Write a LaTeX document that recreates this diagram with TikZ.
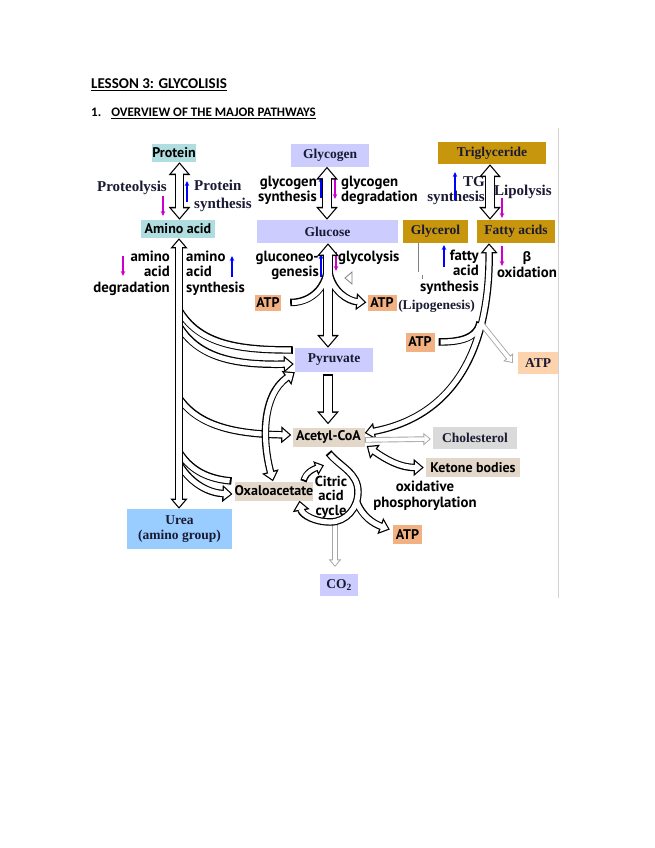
\documentclass[tikz,border=0pt]{standalone}
\usepackage{fontspec}
\setmainfont{Liberation Serif}
\newfontfamily\ptsans{PT Sans}
\newfontfamily\greek{Open Sans}
\newfontfamily\carlito{Carlito}
\usetikzlibrary{arrows.meta}

\definecolor{cyanbox}{HTML}{B0DDE0}
\definecolor{lavbox}{HTML}{CCCCFF}
\definecolor{goldbox}{HTML}{C8960C}
\definecolor{atpbox}{HTML}{F2B183}
\definecolor{beigebox}{HTML}{E3D7C9}
\definecolor{greybox}{HTML}{DADADA}
\definecolor{ureabox}{HTML}{99CCFF}
\definecolor{peachbox}{HTML}{FCD3AC}
\definecolor{labelink}{HTML}{1A1A33}
\definecolor{upblue}{HTML}{0000FF}
\definecolor{dnpink}{HTML}{CC00CC}

\tikzset{
  Tri/.tip={Triangle[length=0pt 1.35, width=0pt 2.2]},
  bout/.style={draw=black, line width=#1},
  bin/.style={draw=white, line width=#1, shorten <=1.9pt, shorten >=1.9pt},
  blk/.style={bout=7.5pt, postaction={bin=5.1pt}},
  bigblk/.style={bout=9.5pt, postaction={bin=7.1pt}},
  sblk/.style={bout=6.5pt, postaction={bin=4.1pt}},
  gout/.style={draw=gray!70, line width=5.5pt},
  gin/.style={draw=white, line width=3.7pt, shorten <=1.4pt, shorten >=1.4pt},
  gblk/.style={gout, postaction={gin}},
  up/.style={upblue, line width=1.6pt, -{Stealth[length=5pt,width=4.5pt]}},
  dn/.style={dnpink, line width=1.6pt, -{Stealth[length=5pt,width=4.5pt]}},
  box/.style 2 args={minimum width=#1, minimum height=#2, inner sep=0pt},
  sbox/.style={font=\ptsans\bfseries\fontsize{14}{16}\selectfont},
  rbox/.style={font=\bfseries\fontsize{13.5}{15}\selectfont, text=labelink},
  sx/.style={font=\ptsans\bfseries\fontsize{14.8}{15.5}\selectfont, inner sep=0pt},
  rx/.style={font=\bfseries\fontsize{15}{18}\selectfont, text=labelink, inner sep=0pt},
}

\begin{document}
\begin{tikzpicture}[x=1pt, y=-1pt]
  \fill[white] (0,0) rectangle (655,848);
  \useasboundingbox (0,0) rectangle (655,848);

  % heading
  \node[anchor=west, inner sep=0pt, font=\carlito\bfseries\fontsize{15}{16}\selectfont] (title) at (91,85) {\underline{LESSON 3: GLYCOLISIS}};
  \node[anchor=west, inner sep=0pt, font=\carlito\bfseries\fontsize{13}{14}\selectfont] (sub) at (91,113) {1.\hspace{10pt}\underline{OVERVIEW OF THE MAJOR PATHWAYS}};
  \draw[gray!35, line width=1pt] (558,128) -- (558,598);

  % boxes
  \node[box={42pt}{18pt}, fill=cyanbox, sbox] (protein) at (174,153) {Protein};
  \node[box={74pt}{18pt}, fill=cyanbox, sbox] (amino) at (178,229) {Amino acid};
  \node[box={78pt}{23pt}, fill=lavbox, rbox] (glycogen) at (330,155) {Glycogen};
  \node[box={141pt}{23pt}, fill=lavbox, rbox] (glucose) at (327.5,231.5) {Glucose};
  \node[box={108pt}{22pt}, fill=goldbox, rbox] (trig) at (492,153) {Triglyceride};
  \node[box={65pt}{23pt}, fill=goldbox, rbox] (glycerol) at (435.5,231.5) {Glycerol};
  \node[box={78pt}{23pt}, fill=goldbox, rbox] (fatty) at (516,231.5) {Fatty acids};
  \node[box={26pt}{16pt}, fill=atpbox, sbox] (atpa) at (268,302.5) {ATP};
  \node[box={29pt}{16pt}, fill=atpbox, sbox] (atpb) at (382,302.5) {ATP};
  \node[box={78pt}{24pt}, fill=lavbox, rbox] (pyruvate) at (334,360) {Pyruvate};
  \node[box={29pt}{19pt}, fill=atpbox, sbox] (atpc) at (420,342) {ATP};
  \node[box={40pt}{22pt}, fill=peachbox, rbox] (atpd) at (538,363) {ATP};
  \node[box={72pt}{19pt}, fill=beigebox, sbox] (acetyl) at (328.5,437) {Acetyl-CoA};
  \node[box={84pt}{22pt}, fill=greybox, rbox] (chol) at (475,438) {Cholesterol};
  \node[box={94pt}{19pt}, fill=beigebox, sbox] (ketone) at (473,467.5) {Ketone bodies};
  \node[box={78pt}{19pt}, fill=beigebox, sbox] (oxalo) at (274,491) {Oxaloacetate};
  \node[box={29pt}{19pt}, fill=atpbox, sbox] (atpe) at (407.5,534.5) {ATP};
  \node[box={105pt}{40pt}, fill=ureabox, rbox, align=center] (urea) at (179.5,529) {Urea\\(amino group)};
  \node[box={38pt}{22pt}, fill=lavbox, rbox] (co2) at (339,585) {CO\textsubscript{2}};

  % labels
  \node[rx, anchor=east] (lproteo) at (167,188) {Proteolysis};
  \node[rx, anchor=west, align=left] (lpsyn) at (194,196) {Protein\\synthesis};
  \node[sx, anchor=east, align=right] (laadeg) at (170,273) {amino\\acid\\degradation};
  \node[sx, anchor=west, align=left] (laasyn) at (186,273) {amino\\acid\\synthesis};
  \node[sx, anchor=east, align=right] (lgsyn) at (317,190.5) {glycogen\\synthesis};
  \node[sx, anchor=west, align=left] (lgdeg) at (341,190.5) {glycogen\\degradation};
  \node[sx, anchor=east, align=right] (lgneo) at (319,265.5) {gluconeo-\\genesis};
  \node[sx, anchor=west] (lglyc) at (338,258) {glycolysis};
  \node[rx, anchor=east, align=right, font=\bfseries\fontsize{15}{15}\selectfont] (ltgsyn) at (485,191) {TG\\synthesis};
  \node[rx, anchor=west] (llipo) at (494,192) {Lipolysis};
  \node[sx, anchor=east, align=right] (lfasyn) at (479,272) {fatty\\acid\\synthesis};
  \node[rx, font=\bfseries\fontsize{13.5}{15}\selectfont] (llipog) at (436.5,306) {(Lipogenesis)};
  \node[sx, align=center] (lbeta) at (527,264.5) {{\greek\bfseries\fontsize{13}{15.5}\selectfont β}\\oxidation};
  \node[sx, align=center, font=\ptsans\bfseries\fontsize{14.5}{14.5}\selectfont] (lcitric) at (331,497) {Citric\\acid\\cycle};
  \node[sx, align=center] (loxphos) at (425,495.5) {oxidative\\phosphorylation};

  % small pathway arrows
  \draw[dn] (163,196) -- (163,216);
  \draw[up] (187,202) -- (187,181);
  \draw[dn] (123,256) -- (123,276);
  \draw[up] (232,277) -- (232,256);
  \draw[up] (321,198) -- (321,177);
  \draw[dn] (335,178) -- (335,199);
  \draw[up] (321,277) -- (321,254);
  \draw[dn] (336,252) -- (336,271);
  \draw[up] (455,200) -- (455,172);
  \draw[dn] (502,198) -- (502,218);
  \draw[up] (444,267) -- (444,245);
  \draw[dn] (502,246) -- (502,266);

  % odd marks
  \draw[gray, line width=1pt] ([xshift=-17pt]glycerol.south) -- ++(0,29);
  \draw[gray, line width=0.8pt] (422,275) -- (422,279);
  \draw[gray, line width=0.8pt] (352,272) -- (345,278) -- (352,284) -- cycle;

  % storage arrows
  \draw[bigblk, {Tri}-{Tri}] ([xshift=5.5pt]protein.south) -- ([xshift=1.5pt]amino.north);
  \draw[bigblk, {Tri}-{Tri}] ([xshift=-3pt]glycogen.south) -- ([xshift=-0.5pt]glucose.north);
  \draw[bigblk, {Tri}-{Tri}] ([xshift=-2pt]trig.south) -- ([xshift=-26pt]fatty.south |- glucose.north);

  % amino acid branches
  \draw[blk] (179,310) .. controls (200,345) and (240,350) .. ([xshift=-2pt,yshift=10pt]pyruvate.west);
  \draw[blk, -{Tri}] (179,326) .. controls (200,360) and (240,365) .. ([xshift=-1pt,yshift=-4pt]pyruvate.west);
  \draw[blk, -{Tri}] (179,398) .. controls (200,428) and (240,434) .. ([xshift=-1pt,yshift=2pt]acetyl.west);
  \draw[blk] (179,452) .. controls (192,472) and (210,479) .. ([xshift=-3pt,yshift=10pt]oxalo.west);
  \draw[blk, -{Tri}] (179,464) .. controls (192,485) and (210,493) .. ([xshift=-2pt,yshift=-3pt]oxalo.west);
  \draw[blk, {Tri}-{Tri}] ([xshift=1pt]amino.south) -- ([xshift=-0.5pt]urea.north);

  % pyruvate <-> oxaloacetate
  \draw[blk, {Tri}-{Tri}] ([xshift=-1pt]oxalo.north) .. controls (262,440) and (262,395) .. (pyruvate.south west);

  % glucose <-> pyruvate with ATP
  \draw[bout=9.5pt, {Tri}-{Tri}] ([xshift=0.5pt]glucose.south) -- ([xshift=-6pt]pyruvate.north);
  \draw[bout=7.5pt] ([xshift=9pt]atpa.east) to[out=0,in=-100] (327,272);
  \draw[bout=7.5pt, -{Tri}] (329,272) to[out=-80,in=175] ([xshift=-1pt]atpb.west);
  \draw[bin=7.1pt, {Tri}-{Tri}] ([xshift=0.5pt]glucose.south) -- ([xshift=-6pt]pyruvate.north);
  \draw[bin=5.1pt] ([xshift=9pt]atpa.east) to[out=0,in=-100] (327,272);
  \draw[bin=5.1pt, -{Tri}] (329,272) to[out=-80,in=175] ([xshift=-1pt]atpb.west);

  \draw[bigblk, -{Tri}] ([xshift=-6pt,yshift=-2pt]pyruvate.south) -- ([xshift=-0.5pt,yshift=3pt]acetyl.north);

  % fatty acids <-> acetyl-CoA with ATP
  \draw[bout=7.5pt, {Tri}-{Tri}] ([xshift=-27pt]fatty.south) .. controls (490,340) and (460,415) .. ([yshift=4pt]acetyl.east);
  \draw[bout=7.5pt] ([xshift=4pt]atpc.east) to[out=0,in=-100] (480,322);
  \draw[gout, -{Tri}] (480,322) -- ([xshift=-5pt]atpd.west);
  \draw[bin=5.1pt, {Tri}-{Tri}] ([xshift=-27pt]fatty.south) .. controls (490,340) and (460,415) .. ([yshift=4pt]acetyl.east);
  \draw[bin=5.1pt] ([xshift=4pt]atpc.east) to[out=0,in=-100] (480,322);
  \draw[gin, -{Tri}] (480,322) -- ([xshift=-5pt]atpd.west);

  % acetyl-CoA fates
  \draw[gblk, -{Tri}] ([yshift=-3pt]acetyl.east) -- ([xshift=-2pt,yshift=-1pt]chol.west);
  \draw[blk, {Tri}-{Tri}] ([xshift=2pt,yshift=-9pt]acetyl.east) to[out=-35,in=180] ([xshift=-2pt]ketone.west);

  % citric acid cycle
  \draw[gblk, -{Tri}] (335,524) -- ([xshift=-4pt,yshift=7pt]co2.north);
  \draw[bout=7.5pt, -{Tri}] ([yshift=-6pt]acetyl.south) to[out=-50,in=90] (358,492) to[out=-90,in=0] (330,522) to[out=180,in=-80] ([xshift=-14pt]oxalo.south east);
  \draw[bout=7.5pt, -{Tri}] (356,500) to[out=-70,in=160] ([xshift=-3pt,yshift=5pt]atpe.west);
  \draw[bin=5.1pt, -{Tri}] ([yshift=-6pt]acetyl.south) to[out=-50,in=90] (358,492) to[out=-90,in=0] (330,522) to[out=180,in=-80] ([xshift=-14pt]oxalo.south east);
  \draw[bin=5.1pt, -{Tri}] (356,500) to[out=-70,in=160] ([xshift=-3pt,yshift=5pt]atpe.west);
  \draw[sblk, -{Tri}] ([xshift=-10pt]oxalo.north east) to[out=75,in=200] ([xshift=-4.5pt,yshift=-18.5pt]acetyl.south);
\end{tikzpicture}
\end{document}
